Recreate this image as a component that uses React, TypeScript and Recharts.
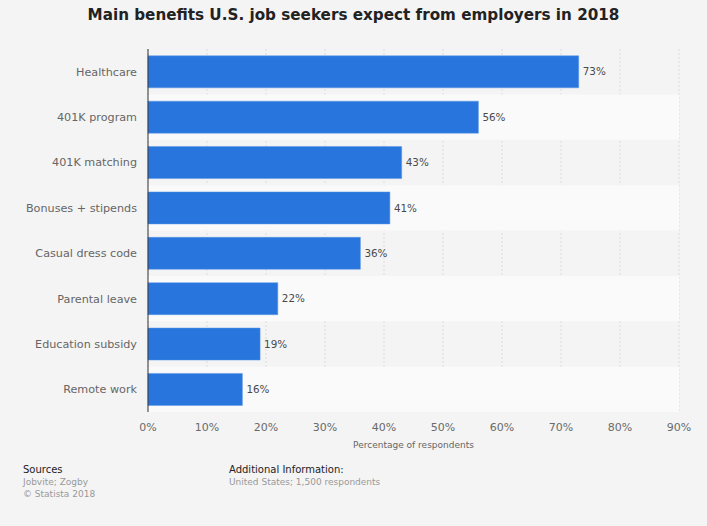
import { BarChart, Bar, XAxis, YAxis, CartesianGrid, ReferenceArea, LabelList } from "recharts"

const categories = [
  "Healthcare",
  "401K program",
  "401K matching",
  "Bonuses + stipends",
  "Casual dress code",
  "Parental leave",
  "Education subsidy",
  "Remote work",
]
const shares = [73, 56, 43, 41, 36, 22, 19, 16]
const xTicks = [0, 10, 20, 30, 40, 50, 60, 70, 80, 90]

const data = categories.map((name, i) => ({ name, value: shares[i] }))

const font = "'DejaVu Sans', sans-serif"

export default function App() {
  return (
    <div
      style={{
        position: "absolute",
        left: 0,
        top: 0,
        width: 707,
        height: 526,
        background: "#f4f4f4",
        fontFamily: font,
      }}
    >
      <div
        style={{
          position: "absolute",
          top: 6,
          left: 0,
          width: 707,
          textAlign: "center",
          fontSize: 15.2,
          fontWeight: "bold",
          color: "#222",
        }}
      >
        Main benefits U.S. job seekers expect from employers in 2018
      </div>
      <BarChart
        width={707}
        height={526}
        data={data}
        layout="vertical"
        barCategoryGap="15%"
        margin={{ top: 49, right: 28, bottom: 74, left: 8 }}
      >
        {categories.map((c, i) =>
          i % 2 === 1 ? (
            <ReferenceArea key={c} y1={c} y2={c} fill="#fafafa" fillOpacity={1} stroke="none" />
          ) : null
        )}
        <CartesianGrid horizontal={false} stroke="#dcdcdc" strokeDasharray="2 2" />
        <XAxis
          type="number"
          domain={[0, 90]}
          ticks={xTicks}
          tickFormatter={(v) => `${v}%`}
          axisLine={false}
          tickLine={false}
          tick={{ fontSize: 11, fill: "#6a6a6a", fontFamily: font }}
          tickMargin={5}
          label={{
            value: "Percentage of respondents",
            position: "insideBottom",
            offset: 4,
            fontSize: 9,
            fill: "#666",
            fontFamily: font,
          }}
          height={40}
        />
        <YAxis
          type="category"
          dataKey="name"
          width={140}
          axisLine={{ stroke: "#333" }}
          tickLine={false}
          tick={{ fontSize: 11.2, fill: "#666", fontFamily: font }}
          tickMargin={5}
        />
        <Bar dataKey="value" fill="#2876dd" stroke="#5a97e6" strokeWidth={0.5} isAnimationActive={false}>
          <LabelList
            dataKey="value"
            position="right"
            offset={4}
            formatter={(v: number) => `${v}%`}
            style={{ fontSize: 10.4, fill: "#4a4a4a", fontFamily: font }}
          />
        </Bar>
      </BarChart>
      <div style={{ position: "absolute", left: 23, top: 464, fontSize: 10, lineHeight: "12px" }}>
        <div style={{ color: "#222" }}>Sources</div>
        <div style={{ color: "#999", fontSize: 9 }}>Jobvite; Zogby</div>
        <div style={{ color: "#999", fontSize: 9 }}>© Statista 2018</div>
      </div>
      <div style={{ position: "absolute", left: 229, top: 464, fontSize: 10, lineHeight: "12px" }}>
        <div style={{ color: "#222" }}>Additional Information:</div>
        <div style={{ color: "#999", fontSize: 9 }}>United States; 1,500 respondents</div>
      </div>
    </div>
  )
}
